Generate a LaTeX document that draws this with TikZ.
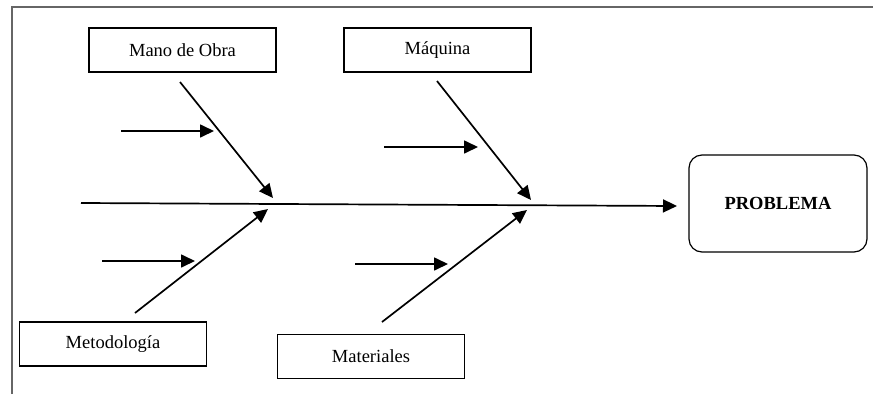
\documentclass[tikz,border=0pt]{standalone}
\usepackage{fontspec}
\setmainfont{Liberation Serif}
\usetikzlibrary{arrows.meta}
\begin{document}
\begin{tikzpicture}[x=1pt,y=-1pt,
  causebox/.style={draw=black,line width=1.2pt,rectangle,minimum width=187pt,minimum height=44pt,inner sep=0pt,
    font=\fontsize{18.5}{22}\selectfont},
  effectbox/.style={draw=black,line width=1.2pt,rectangle,rounded corners=13pt,minimum width=178pt,minimum height=97pt,inner sep=0pt,
    font=\fontsize{18.5}{22}\selectfont\bfseries},
  arr/.style={line width=1.7pt,-{Triangle[length=14pt,width=13pt]}},
  frame/.style={draw=black!60,line width=1.2pt}]
  \useasboundingbox (0,0) rectangle (873,394);
  % page frame (top and left rules)
  \draw[frame] (12,394) -- (12,7) -- (873,7);

  % cause and effect boxes
  \node[causebox] (mano) at (182.5,50) {Mano de Obra};
  \node[causebox] (maquina) at (437.5,50) {Máquina};
  \node[causebox] (metodo) at (113,344) {Metodología};
  \node[causebox] (materiales) at (371,356.5) {\raisebox{-3pt}{Materiales}};
  \node[effectbox] (problema) at (778,203.5) {PROBLEMA};

  % spine
  \coordinate (spinestart) at (81,203);
  \coordinate (spineend) at (677,206);
  \draw[arr] (spinestart) -- (spineend);

  % main bones
  \coordinate (manostart) at (180,82);
  \coordinate (manotip) at (273,198);
  \coordinate (maqstart) at (437,81);
  \coordinate (maqtip) at (531,200);
  \coordinate (metstart) at (135,313);
  \coordinate (mettip) at (268,209);
  \coordinate (matstart) at (382,322);
  \coordinate (mattip) at (527,210);
  \draw[arr] (manostart) -- (manotip);
  \draw[arr] (maqstart) -- (maqtip);
  \draw[arr] (metstart) -- (mettip);
  \draw[arr] (matstart) -- (mattip);

  % sub-causes
  \coordinate (s1a) at (121,131);
  \coordinate (s1b) at (214,131);
  \coordinate (s2a) at (384,147);
  \coordinate (s2b) at (478,147);
  \coordinate (s3a) at (102,261);
  \coordinate (s3b) at (195,261);
  \coordinate (s4a) at (355,264);
  \coordinate (s4b) at (448,264);
  \draw[arr] (s1a) -- (s1b);
  \draw[arr] (s2a) -- (s2b);
  \draw[arr] (s3a) -- (s3b);
  \draw[arr] (s4a) -- (s4b);
\end{tikzpicture}
\end{document}
